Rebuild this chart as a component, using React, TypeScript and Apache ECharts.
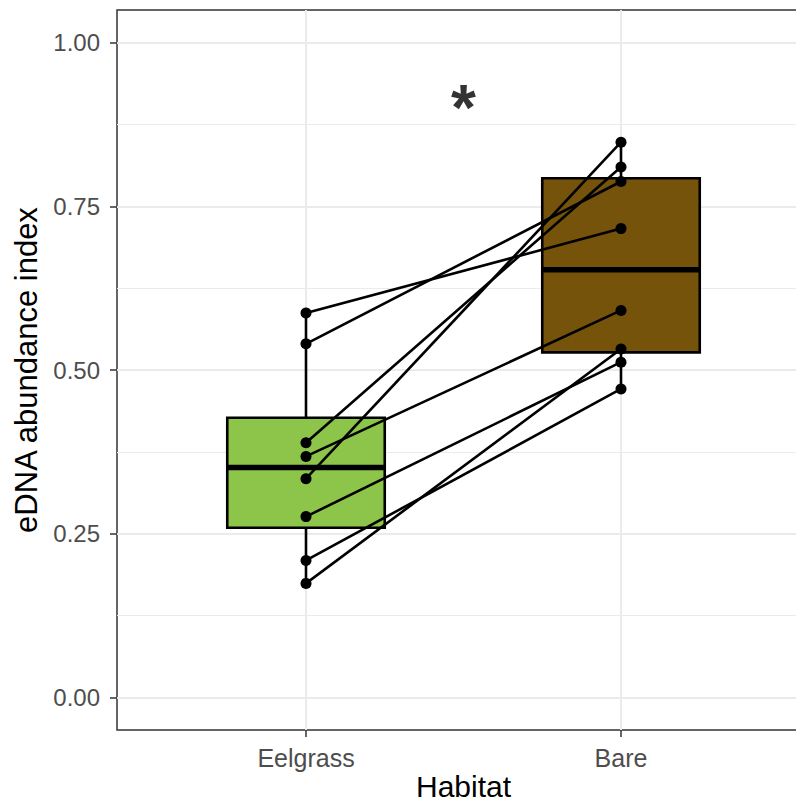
import React, { useEffect, useRef } from 'react';
import * as echarts from 'echarts';

const categories = ['Eelgrass', 'Bare'];
// paired observations (same index = same site)
const eelgrassValues = [0.587, 0.540, 0.389, 0.368, 0.334, 0.276, 0.209, 0.174];
const bareValues = [0.716, 0.788, 0.810, 0.591, 0.848, 0.512, 0.471, 0.532];
// box statistics: [min, q1, median, q3, max]
const eelgrassBox = [0.174, 0.259, 0.351, 0.427, 0.587];
const bareBox = [0.471, 0.527, 0.653, 0.793, 0.848];
const yTicks = [0, 0.25, 0.5, 0.75, 1];
const yMinorTicks = [0.125, 0.375, 0.625, 0.875];
const xTicks = [0, 1];
const boxColors = ['#8DC54A', '#76530B'];
const annotationPoint = [0.5, 0.9];
const annotationLabel = '*';

export default function App() {
  const ref = useRef<HTMLDivElement>(null);

  useEffect(() => {
    document.body.style.margin = '0';
    if (!ref.current) return;
    const chart = echarts.init(ref.current, undefined, { renderer: 'svg' });

    const boxData = [
      [0, ...eelgrassBox],
      [1, ...bareBox],
    ];

    const pairSeries = eelgrassValues.map((e, i) => ({
      type: 'line',
      name: 'pair' + i,
      data: [
        [0, e],
        [1, bareValues[i]],
      ],
      symbol: 'circle',
      symbolSize: 11,
      lineStyle: { color: '#000000', width: 2.6 },
      itemStyle: { color: '#000000' },
      z: 3,
      silent: true,
    }));

    const option: any = {
      animation: false,
      textStyle: { fontFamily: 'Liberation Sans, Arial, sans-serif' },
      grid: {
        left: 117,
        top: 10,
        width: 693,
        height: 720,
        outerBoundsMode: 'none',
        containLabel: false,
        show: true,
        borderColor: '#333333',
        borderWidth: 1.5,
        backgroundColor: 'transparent',
      },
      xAxis: {
        type: 'value',
        min: -0.6,
        max: 1.6,
        axisLine: { show: false, onZero: false },
        axisTick: {
          show: true,
          customValues: xTicks,
          length: 7,
          lineStyle: { color: '#333333', width: 1.5 },
        },
        axisLabel: {
          customValues: xTicks,
          formatter: (v: number) => categories[Math.round(v)] ?? '',
          margin: 15,
          fontSize: 25,
          color: '#4D4D4D',
        },
        splitLine: { show: true, lineStyle: { color: '#EBEBEB', width: 2 } },
        name: 'Habitat',
        nameLocation: 'middle',
        nameMoveOverlap: false,
        nameGap: 44,
        nameTextStyle: { fontSize: 30, lineHeight: 24, color: '#000000' },
      },
      yAxis: [
        {
          type: 'value',
          min: -0.05,
          max: 1.05,
          axisLine: { show: false, onZero: false },
          axisTick: {
            show: true,
            customValues: yTicks,
            length: 7,
            lineStyle: { color: '#333333', width: 1.5 },
          },
          axisLabel: {
            customValues: yTicks,
            formatter: (v: number) => v.toFixed(2),
            margin: 17,
            fontSize: 24,
            color: '#4D4D4D',
          },
          splitLine: { show: true, lineStyle: { color: '#EBEBEB', width: 2 } },
          name: 'eDNA abundance index',
          nameLocation: 'middle',
          nameGap: 69,
          nameRotate: 90,
          nameTextStyle: { fontSize: 31, color: '#000000' },
        },
        {
          type: 'value',
          min: -0.05,
          max: 1.05,
          position: 'left',
          axisLine: { show: false, onZero: false },
          axisTick: { show: false, customValues: yMinorTicks },
          axisLabel: { show: false, customValues: yMinorTicks },
          splitLine: { show: true, lineStyle: { color: '#EBEBEB', width: 1 } },
        },
      ],
      series: [
        {
          type: 'custom',
          name: 'box',
          data: boxData,
          encode: { x: 0, y: [1, 2, 3, 4, 5] },
          z: 2,
          silent: true,
          renderItem: (params: any, api: any) => {
            const x = api.value(0);
            const lo = api.coord([x, api.value(1)]);
            const q1 = api.coord([x, api.value(2)]);
            const med = api.coord([x, api.value(3)]);
            const q3 = api.coord([x, api.value(4)]);
            const hi = api.coord([x, api.value(5)]);
            const halfW = api.size([0.25, 0])[0];
            const color = boxColors[params.dataIndex];
            const stroke = { stroke: '#000000', lineWidth: 2.6 };
            return {
              type: 'group',
              children: [
                { type: 'line', shape: { x1: hi[0], y1: hi[1], x2: q3[0], y2: q3[1] }, style: stroke },
                { type: 'line', shape: { x1: q1[0], y1: q1[1], x2: lo[0], y2: lo[1] }, style: stroke },
                {
                  type: 'rect',
                  shape: { x: q3[0] - halfW, y: q3[1], width: 2 * halfW, height: q1[1] - q3[1] },
                  style: { fill: color, stroke: '#000000', lineWidth: 2.6 },
                },
                {
                  type: 'line',
                  shape: { x1: med[0] - halfW, y1: med[1], x2: med[0] + halfW, y2: med[1] },
                  style: { stroke: '#000000', lineWidth: 5.5 },
                },
              ],
            };
          },
        },
        ...pairSeries,
        {
          type: 'scatter',
          name: 'signif',
          data: [annotationPoint],
          symbolSize: 0,
          z: 4,
          silent: true,
          label: {
            show: true,
            formatter: annotationLabel,
            position: 'inside',
            fontSize: 64,
            fontWeight: 'bold',
            color: '#000000',
            textBorderWidth: 0,
          },
        },
      ],
    };

    chart.setOption(option);
    return () => chart.dispose();
  }, []);

  return <div ref={ref} style={{ width: 796, height: 803 }} />;
}
